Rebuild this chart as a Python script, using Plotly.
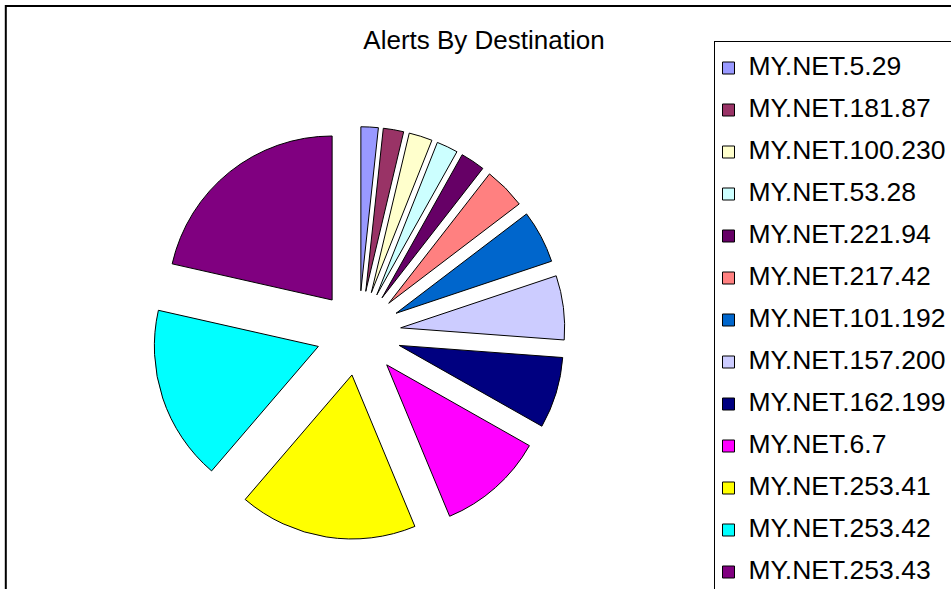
import plotly.graph_objects as go

# ---- data ----
destinations = [
    "MY.NET.5.29", "MY.NET.181.87", "MY.NET.100.230", "MY.NET.53.28",
    "MY.NET.221.94", "MY.NET.217.42", "MY.NET.101.192", "MY.NET.157.200",
    "MY.NET.162.199", "MY.NET.6.7", "MY.NET.253.41", "MY.NET.253.42",
    "MY.NET.253.43",
]
alerts = [17, 20, 23, 21, 24, 41, 52, 63, 70, 105, 175, 172, 214]
slice_colors = [
    "#9999FF", "#993366", "#FFFFCC", "#CCFFFF", "#660066", "#FF8080",
    "#0066CC", "#CCCCFF", "#000080", "#FF00FF", "#FFFF00", "#00FFFF",
    "#800080",
]

W, H = 951, 589
FONT = "Liberation Sans, Arial, sans-serif"

# pie geometry (pixels)
cx, cy, r, pull = 358.6, 333.1, 164.0, 0.2585
half = r * (1 + pull)

legend_labels = [
    f"<span style='font-size:26.5px;baseline-shift:5px'>{d}</span>" for d in destinations
]

fig = go.Figure(
    go.Pie(
        labels=legend_labels,
        values=alerts,
        marker=dict(colors=slice_colors, line=dict(color="black", width=1)),
        pull=[pull] * len(alerts),
        sort=False,
        direction="clockwise",
        rotation=0,
        textinfo="none",
        hoverinfo="skip",
        domain=dict(
            x=[(cx - half) / W, (cx + half) / W],
            y=[1 - (cy + half) / H, 1 - (cy - half) / H],
        ),
    )
)

fig.update_layout(
    width=W,
    height=H,
    margin=dict(l=0, r=0, t=0, b=0, autoexpand=False),
    paper_bgcolor="white",
    plot_bgcolor="white",
    font=dict(family=FONT, color="black"),
    title=dict(
        text="Alerts By Destination",
        x=484 / W,
        xanchor="center",
        y=1 - 40 / H,
        yanchor="middle",
        font=dict(size=26, family=FONT, color="black"),
    ),
    showlegend=True,
    legend=dict(
        x=713.5 / W,
        y=1 - 41 / H,
        xanchor="left",
        yanchor="top",
        bordercolor="black",
        borderwidth=1,
        bgcolor="white",
        indentation=-6,
        font=dict(size=30, family=FONT, color="black"),
        maxheight=2000,
    ),
    shapes=[
        dict(
            type="rect", xref="paper", yref="paper",
            x0=5.8 / W, y0=-0.1, x1=1.1, y1=1 - 6 / H,
            line=dict(color="black", width=2), fillcolor="rgba(0,0,0,0)",
            layer="below",
        )
    ],
)

fig.write_html("out.html")
